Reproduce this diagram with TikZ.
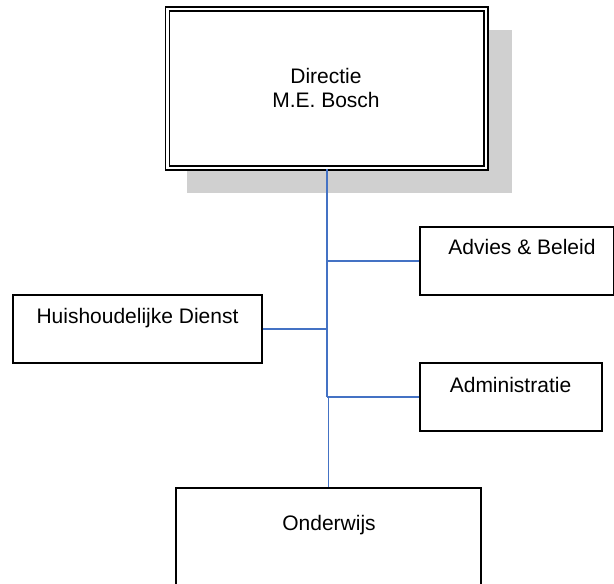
\documentclass[tikz,border=0pt]{standalone}
\usepackage{fontspec}
\setmainfont{Liberation Sans}
\begin{document}
\begin{tikzpicture}[x=0.75pt,y=-0.75pt,
  box/.style={draw=black, line width=1.1pt, fill=white, inner sep=0pt},
  lbl/.style={font=\fontsize{15.75pt}{18pt}\selectfont, inner sep=0pt, anchor=base, align=center},
  conn/.style={draw=linkblue, line width=1.2pt}]
\definecolor{linkblue}{HTML}{4472C4}
\definecolor{shadowgray}{HTML}{D0D0D0}
\useasboundingbox (0,0) rectangle (614,583);
% shadow of the top box
\fill[shadowgray] (187,30) rectangle (512,193);
% top box (double border)
\node[draw=black, line width=1pt, double=white, double distance=2pt, fill=white,
      minimum width=238.9pt, minimum height=119.25pt, inner sep=0pt] (dir) at (326.75,88.5) {};
\node[lbl] (dirt) at (326,107) {Directie\\M.E. Bosch};
% other boxes
\node[box, minimum width=145.1pt, minimum height=51pt] (adv) at (516.75,261) {};
\node[lbl] (advt) at (522,254.5) {Advies \& Beleid};
\node[box, minimum width=186.75pt, minimum height=51pt] (huis) at (137.5,329) {};
\node[lbl] (huist) at (137.5,323) {Huishoudelijke Dienst};
\node[box, minimum width=136.5pt, minimum height=51pt] (adm) at (511,397) {};
\node[lbl] (admt) at (510.5,392) {Administratie};
\node[box, minimum width=228.75pt, minimum height=90pt] (ond) at (328.5,548) {};
\node[lbl] (ondt) at (329,530) {Onderwijs};
% connectors
\coordinate (junc) at (adm.west -| dir.south);
\coordinate (junc2) at (adm.west -| ond.north);
\draw[conn] (dir.south) -- (junc);
\draw[conn] (junc2) -- (ond.north);
\draw[conn] (adv.west) -- (adv.west -| dir.south);
\draw[conn] (huis.east) -- (huis.east -| dir.south);
\draw[conn] (adm.west) -- (junc);
\end{tikzpicture}
\end{document}
